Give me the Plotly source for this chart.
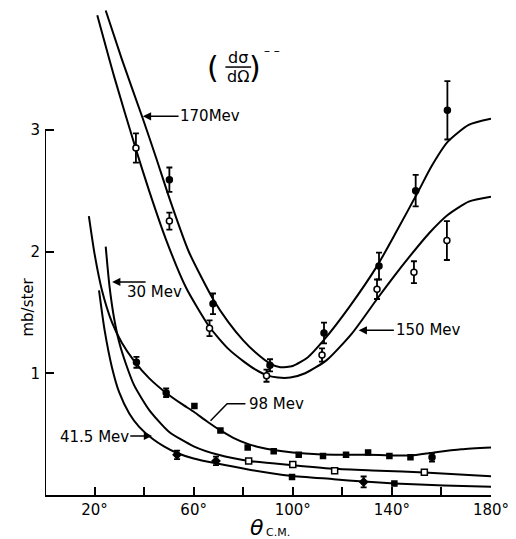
import plotly.graph_objects as go

# ---------------- data ----------------
# fitted curves
c170_x = [24.5, 31, 39.5, 45, 50.5, 58, 67.8, 74, 80, 85, 90.8, 95, 100, 106, 112.4, 123, 134, 142, 150.3, 156, 162.5, 171, 180]
c170_y = [3.98, 3.58, 3.09, 2.76, 2.42, 2.00, 1.61, 1.42, 1.27, 1.17, 1.08, 1.05, 1.06, 1.13, 1.27, 1.55, 1.88, 2.17, 2.48, 2.70, 2.90, 3.04, 3.09]

c150_x = [21.1, 28, 36.7, 42, 48.8, 57, 66.4, 74, 80, 85, 89.4, 94, 99, 105, 113.8, 124, 134, 141, 147.6, 155, 162.5, 171, 180]
c150_y = [3.94, 3.43, 2.84, 2.50, 2.10, 1.70, 1.38, 1.20, 1.10, 1.03, 0.985, 0.965, 0.965, 1.00, 1.11, 1.33, 1.61, 1.80, 1.97, 2.15, 2.30, 2.41, 2.45]

c98_x = [17.7, 20, 23, 27, 31, 36, 42, 48.8, 55, 60.3, 65, 70.8, 76, 81.8, 87, 92.2, 100, 110, 120, 130, 140, 147.6, 157, 168, 180]
c98_y = [2.29, 1.98, 1.68, 1.42, 1.25, 1.10, 0.96, 0.84, 0.75, 0.68, 0.61, 0.53, 0.47, 0.42, 0.39, 0.37, 0.35, 0.335, 0.33, 0.33, 0.325, 0.325, 0.35, 0.375, 0.39]

c30_x = [24.5, 26, 27.9, 30, 32.6, 36, 42, 50, 60, 70, 82.2, 100, 116.9, 135, 153.1, 180]
c30_y = [2.04, 1.72, 1.45, 1.25, 1.08, 0.90, 0.70, 0.52, 0.40, 0.33, 0.28, 0.245, 0.215, 0.20, 0.185, 0.155]

c41_x = [21.8, 24, 27, 30, 34, 38, 43.5, 48, 53.3, 60, 69, 82, 99, 116.5, 128.6, 141, 161, 180]
c41_y = [1.68, 1.36, 1.05, 0.84, 0.67, 0.56, 0.46, 0.40, 0.345, 0.30, 0.26, 0.21, 0.158, 0.13, 0.11, 0.095, 0.078, 0.068]

# measured points
p170_x = [50.2, 67.8, 90.8, 112.6, 134.8, 149.6, 162.4]
p170_y = [2.59, 1.57, 1.065, 1.33, 1.88, 2.50, 3.16]
p170_e = [0.10, 0.085, 0.05, 0.085, 0.11, 0.13, 0.24]

p150_x = [36.7, 50.2, 66.4, 89.4, 111.8, 134.0, 148.9, 162.2]
p150_y = [2.85, 2.25, 1.37, 0.98, 1.15, 1.69, 1.83, 2.09]
p150_e = [0.12, 0.07, 0.065, 0.05, 0.055, 0.08, 0.09, 0.16]

p98_x = [36.9, 48.9, 156.2]
p98_y = [1.09, 0.84, 0.31]
p98_e = [0.045, 0.035, 0.035]
s98_x = [60.3, 70.8, 81.8, 92.3, 102.4, 112.2, 121.5, 130.4, 139.0, 147.5]
s98_y = [0.73, 0.53, 0.39, 0.36, 0.33, 0.32, 0.33, 0.35, 0.32, 0.31]

s30_x = [82.2, 100.0, 116.9, 153.1]
s30_y = [0.28, 0.25, 0.20, 0.187]

p41_x = [53.3, 69.0, 128.6]
p41_y = [0.33, 0.28, 0.107]
p41_e = [0.035, 0.035, 0.045]
s41_x = [99.7, 141.0]
s41_y = [0.148, 0.094]

x_tickvals = [20, 40, 60, 80, 100, 120, 140, 160, 180]
x_ticktext = ["20°", "", "60°", "", "100°", "", "140°", "", "180°"]
y_tickvals = [1, 2, 3]
y_ticktext = ["1", "2", "3"]

FONT = "DejaVu Sans"
BLK = "black"

fig = go.Figure()

for cx, cy in [(c170_x, c170_y), (c150_x, c150_y), (c98_x, c98_y),
               (c30_x, c30_y), (c41_x, c41_y)]:
    fig.add_trace(go.Scatter(x=cx, y=cy, mode="lines",
                             line=dict(color=BLK, width=2, shape="spline", smoothing=0.6),
                             hoverinfo="skip", showlegend=False))

def err_pts(x, y, e, filled, symbol="circle", size=6):
    fig.add_trace(go.Scatter(
        x=x, y=y, mode="markers",
        marker=dict(symbol=symbol, size=size, color=BLK if filled else "white",
                    line=dict(color=BLK, width=1.5)),
        error_y=dict(type="data", array=e, visible=True, color=BLK, thickness=1.8, width=3) if e else None,
        showlegend=False, cliponaxis=False))

err_pts(p170_x, p170_y, p170_e, True)
err_pts(p150_x, p150_y, p150_e, False)
err_pts(p98_x, p98_y, p98_e, True)
err_pts(s98_x, s98_y, None, True, "square", 5)
err_pts(s30_x, s30_y, None, False, "square", 6)
err_pts(p41_x, p41_y, p41_e, True, "diamond", 6)
err_pts(s41_x, s41_y, None, True, "square", 5)

# ---------------- labels ----------------
labels = [
    ("170Mev", 66.4, 3.11),
    ("30 Mev", 44.2, 1.67),
    ("41.5 Mev", 20.0, 0.477),
    ("98 Mev", 93.5, 0.75),
    ("150 Mev", 154.8, 1.353),
]
ann = []
for t, x, y in labels:
    ann.append(dict(text=t, x=x, y=y, xref="x", yref="y", showarrow=False,
                    font=dict(family=FONT, size=15, color=BLK)))

arrows = [  # head (x, y), tail (x, y)
    (39.5, 3.11, 54.5, 3.11),
    (27.1, 1.75, 41.2, 1.75),
    (43.2, 0.485, 33.8, 0.485),
    (126.6, 1.353, 141.4, 1.353),
]
for hx, hy, tx, ty in arrows:
    ann.append(dict(text="", x=hx, y=hy, ax=tx, ay=ty, xref="x", yref="y",
                    axref="x", ayref="y", showarrow=True, arrowhead=2,
                    arrowsize=1.1, arrowwidth=1.5, arrowcolor=BLK, standoff=0))

# formula (dσ/dΩ)^--
ann += [
    dict(text="dσ", x=78.0, y=3.59, xref="x", yref="y", showarrow=False,
         font=dict(family=FONT, size=16, color=BLK)),
    dict(text="dΩ", x=78.0, y=3.435, xref="x", yref="y", showarrow=False,
         font=dict(family=FONT, size=16, color=BLK)),
    dict(text="(", x=67.8, y=3.51, xref="x", yref="y", showarrow=False,
         font=dict(family=FONT, size=30, color=BLK)),
    dict(text=")", x=84.8, y=3.51, xref="x", yref="y", showarrow=False,
         font=dict(family=FONT, size=30, color=BLK)),
    dict(text="– –", x=91.5, y=3.65, xref="x", yref="y", showarrow=False,
         font=dict(family=FONT, size=12, color=BLK)),
    dict(text="mb/ster", x=-0.065, y=0.385, xref="paper", yref="paper",
         textangle=-90, showarrow=False, font=dict(family=FONT, size=15, color=BLK)),
    # axis title theta_C.M.
    dict(text="<i>θ</i>", x=0.475, y=-0.097, xref="paper", yref="paper",
         xanchor="center", yanchor="bottom", showarrow=False,
         font=dict(family=FONT, size=22, color=BLK)),
    dict(text="C.M.", x=0.492, y=-0.076, xref="paper", yref="paper",
         xanchor="left", yanchor="middle", showarrow=False,
         font=dict(family=FONT, size=11, color=BLK)),
]

shapes = [
    dict(type="line", x0=0, y0=0, x1=0, y1=3, xref="x", yref="y",
         line=dict(color=BLK, width=2)),
    dict(type="line", x0=72.8, y0=3.515, x1=83.2, y1=3.515, xref="x", yref="y",
         line=dict(color=BLK, width=1.5)),
    dict(type="path", path="M 80.9 0.75 L 73.5 0.75 L 66.8 0.61", xref="x", yref="y",
         line=dict(color=BLK, width=1.5)),
]

fig.update_layout(
    width=516, height=539,
    margin=dict(l=45, r=25, t=8, b=44),
    paper_bgcolor="white", plot_bgcolor="white",
    annotations=ann, shapes=shapes,
    font=dict(family=FONT, color=BLK),
    xaxis=dict(range=[0, 180], tickvals=x_tickvals, ticktext=x_ticktext,
               ticks="inside", ticklen=8, tickwidth=1.5, tickcolor=BLK,
               showline=True, linewidth=2, linecolor=BLK, showgrid=False,
               zeroline=False, tickfont=dict(family=FONT, size=15, color=BLK)),
    yaxis=dict(range=[0, 4], tickvals=y_tickvals, ticktext=y_ticktext,
               ticks="inside", ticklen=9, tickwidth=1.5, tickcolor=BLK,
               showline=False, showgrid=False, zeroline=False,
               ticklabelstandoff=4,
               tickfont=dict(family=FONT, size=15, color=BLK)),
)

fig.write_html("out.html", config={"displayModeBar": False},
               post_script="document.body.style.margin='0px';document.body.style.overflow='hidden';")
